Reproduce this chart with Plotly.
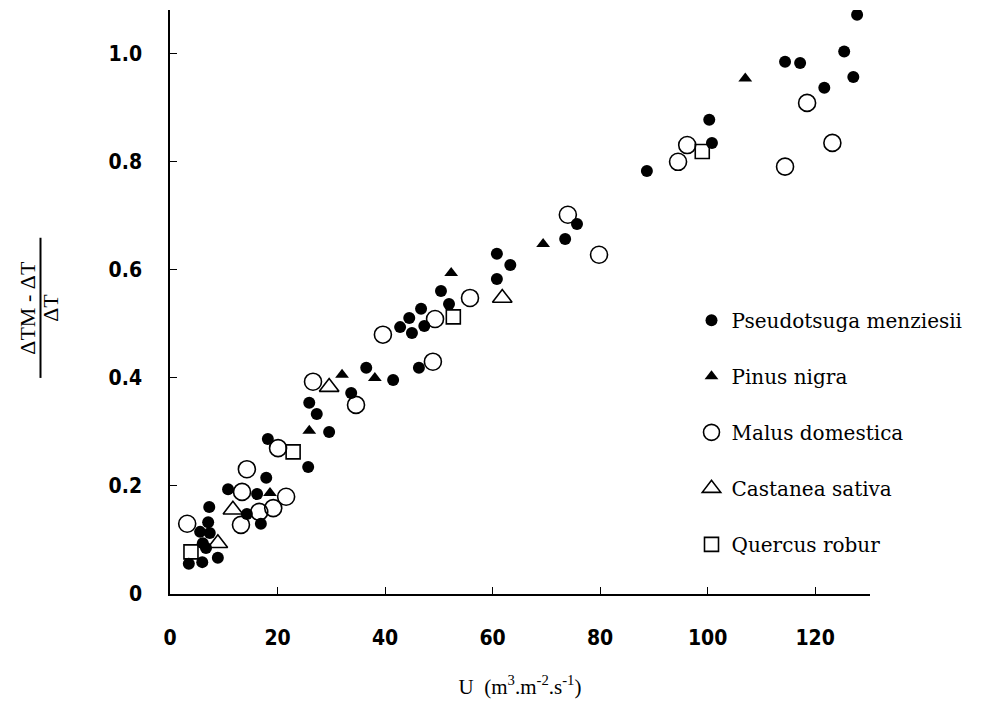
import plotly.graph_objects as go

# ---------------- data ----------------
pseudotsuga_x = [127.8, 125.4, 127.1, 121.7, 114.4, 117.2, 100.3, 100.8, 88.7, 75.7,
                 73.5, 63.3, 60.8, 60.8, 50.4, 51.9, 46.7, 44.5, 47.3, 45.0,
                 42.8, 46.3, 36.5, 41.5, 33.7, 25.9, 27.3, 29.6, 18.2, 25.7,
                 17.9, 10.8, 16.2, 14.3, 16.9, 7.3, 7.1, 5.6, 7.4, 6.1,
                 6.7, 6.0, 3.5, 8.9]
pseudotsuga_y = [1.072, 1.004, 0.957, 0.937, 0.985, 0.983, 0.878, 0.835, 0.783, 0.685,
                 0.657, 0.609, 0.630, 0.583, 0.561, 0.537, 0.528, 0.511, 0.496, 0.483,
                 0.494, 0.419, 0.419, 0.396, 0.372, 0.354, 0.333, 0.300, 0.287, 0.235,
                 0.215, 0.194, 0.185, 0.148, 0.130, 0.161, 0.133, 0.115, 0.113, 0.094,
                 0.085, 0.059, 0.056, 0.067]

pinus_x = [107.0, 69.4, 52.3, 38.1, 32.0, 25.9, 18.6]
pinus_y = [0.954, 0.648, 0.594, 0.400, 0.406, 0.302, 0.187]

malus_x = [118.5, 123.2, 114.4, 96.2, 94.5, 74.0, 79.8, 55.8, 49.3, 48.9,
           39.6, 34.6, 26.6, 20.1, 14.3, 13.4, 21.6, 19.2, 16.6, 13.2, 3.2]
malus_y = [0.909, 0.835, 0.791, 0.831, 0.800, 0.702, 0.628, 0.548, 0.509, 0.430,
           0.480, 0.350, 0.393, 0.270, 0.231, 0.189, 0.180, 0.159, 0.152, 0.128, 0.130]

castanea_x = [61.8, 29.6, 11.7, 8.9]
castanea_y = [0.548, 0.383, 0.156, 0.094]

quercus_x = [99.0, 52.7, 22.9, 3.9]
quercus_y = [0.819, 0.513, 0.263, 0.078]

species = ["Pseudotsuga menziesii", "Pinus nigra", "Malus domestica",
           "Castanea sativa", "Quercus robur"]

x_ticks = [0, 20, 40, 60, 80, 100, 120]
x_tick_labels = ["0", "20", "40", "60", "80", "100", "120"]
y_ticks = [0, 0.2, 0.4, 0.6, 0.8, 1.0]
y_tick_labels = ["0", "0.2", "0.4", "0.6", "0.8", "1.0"]

# ---------------- figure ----------------
fig = go.Figure()

series = [
    (pseudotsuga_x, pseudotsuga_y, species[0], "circle", 12, 0),
    (pinus_x, pinus_y, species[1], "triangle-up", 12, 0),
    (malus_x, malus_y, species[2], "circle-open", 17, 1.6),
    (castanea_x, castanea_y, species[3], "triangle-up-open", 17, 1.6),
    (quercus_x, quercus_y, species[4], "square-open", 14, 1.6),
]

for i, (xs, ys, name, sym, size, lw) in enumerate(series):
    fig.add_trace(go.Scatter(
        x=xs, y=ys, mode="markers", name=name,
        legendgroup=f"g{i}",
        marker=dict(symbol=sym, size=size, color="black",
                    line=dict(color="black", width=lw)),
    ))

tick_font = dict(family="Liberation Sans Narrow, DejaVu Sans Condensed, Roboto Condensed, Liberation Sans, sans-serif",
                 size=21, color="black", weight="bold")
serif = "DejaVu Serif, Liberation Serif, serif"

fig.update_layout(
    width=998, height=696,
    margin=dict(l=162, r=136, t=2, b=110),
    paper_bgcolor="white", plot_bgcolor="white",
    showlegend=True,
    legend=dict(
        x=0.745, y=0.502, xanchor="left", yanchor="top",
        font=dict(family=serif, size=20, color="black"),
        tracegroupgap=27, bgcolor="rgba(0,0,0,0)", itemsizing="trace",
    ),
    xaxis=dict(
        range=[0, 130.2], tickvals=x_ticks, ticktext=x_tick_labels,
        showline=True, linecolor="black", linewidth=1.5, mirror=False,
        ticks="inside", ticklen=7, tickcolor="black", tickwidth=1.2,
        showgrid=False, zeroline=False, tickfont=tick_font,
        ticklabelstandoff=24,
        title=dict(text="U  (m<sup>3</sup>.m<sup>-2</sup>.s<sup>-1</sup>)",
                   font=dict(family="Liberation Serif, DejaVu Serif, serif", size=21, color="black"),
                   standoff=30),
    ),
    yaxis=dict(
        range=[0, 1.081], tickvals=y_ticks, ticktext=y_tick_labels,
        showline=True, linecolor="black", linewidth=1.5, mirror=False,
        ticks="inside", ticklen=7, tickcolor="black", tickwidth=1.2,
        showgrid=False, zeroline=False, tickfont=tick_font,
        ticklabelstandoff=22,
    ),
)

# y-axis title drawn as a fraction
frac_font = dict(family="Liberation Serif, DejaVu Serif, serif", size=22, color="black")
fig.add_annotation(text="ΔTM - ΔT", xref="paper", yref="paper",
                   x=-0.203, y=0.49, textangle=-90, showarrow=False,
                   font=frac_font, xanchor="center", yanchor="middle")
fig.add_annotation(text="ΔT", xref="paper", yref="paper",
                   x=-0.170, y=0.49, textangle=-90, showarrow=False,
                   font=frac_font, xanchor="center", yanchor="middle")
fig.add_shape(type="line", xref="paper", yref="paper",
              x0=-0.185, x1=-0.185, y0=0.37, y1=0.61,
              line=dict(color="black", width=2))

fig.write_html("out.html")
